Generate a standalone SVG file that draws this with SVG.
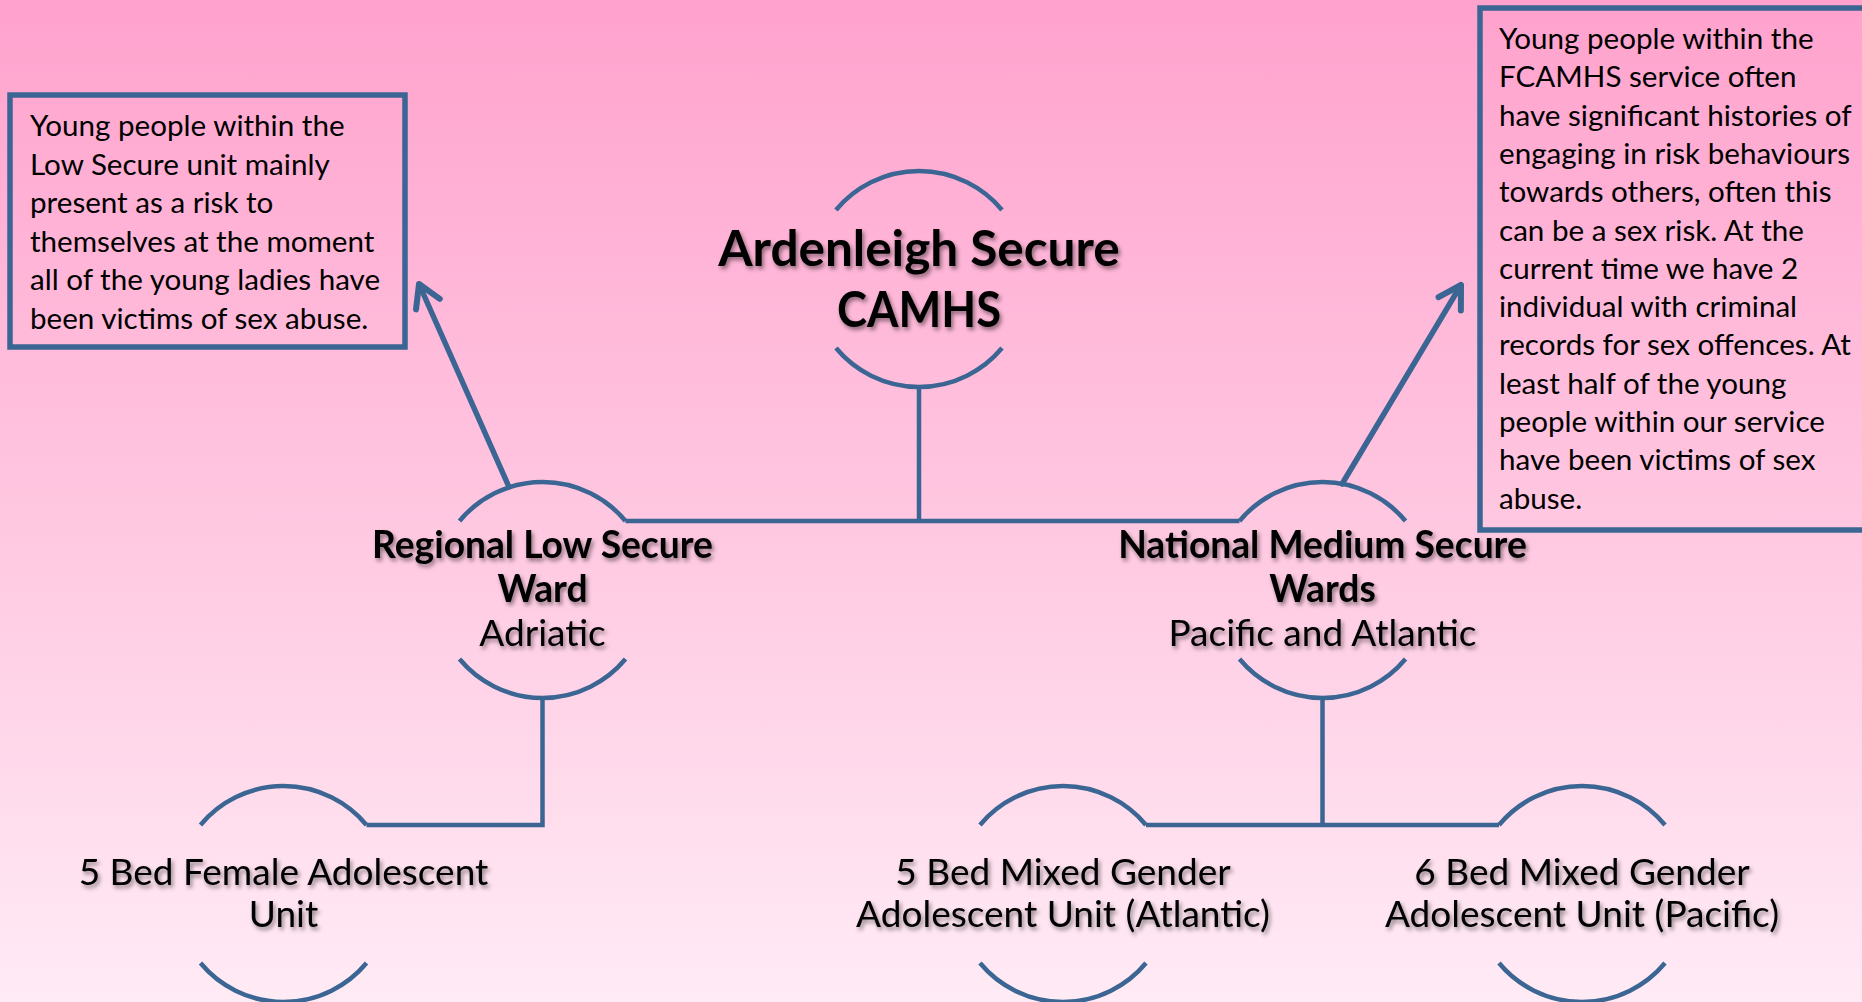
<svg xmlns="http://www.w3.org/2000/svg" width="1862" height="1002" viewBox="0 0 1862 1002">
<defs>
<linearGradient id="bg" x1="0" y1="0" x2="0" y2="1">
<stop offset="0" stop-color="#ffa2cd"/>
<stop offset="0.5" stop-color="#ffc6e0"/>
<stop offset="1" stop-color="#ffebf5"/>
</linearGradient>
<filter id="sh" x="-10%" y="-30%" width="120%" height="160%">
<feDropShadow dx="2" dy="3" stdDeviation="2" flood-color="#000" flood-opacity="0.45"/>
</filter>
<marker id="ah" markerUnits="userSpaceOnUse" markerWidth="40" markerHeight="40" viewBox="-30 -20 40 40" refX="0" refY="0" orient="auto">
<path d="M -22 -13 L 0 0 L -22 13" fill="none" stroke="#3b6593" stroke-width="6" stroke-linecap="round" stroke-linejoin="round"/>
</marker>
</defs>
<style>
.arc{fill:none;stroke:#3b6593;stroke-width:4.5}
.con{fill:none;stroke:#3b6593;stroke-width:4.5}
.arr{fill:none;stroke:#3b6593;stroke-width:5.5;stroke-linecap:round}
.box{fill:none;stroke:#3b6593;stroke-width:5.5}
.t{font-family:Lato,"Open Sans",sans-serif;fill:#000;text-anchor:middle}
.b{font-weight:bold}
.bx{font-family:Lato,"Open Sans",sans-serif;fill:#000;font-size:29.6px}
.s{filter:url(#sh)}
</style>
<rect x="0" y="0" width="1862" height="1002" fill="url(#bg)"/>

<g id="connectors">
<path class="con" d="M 919 387 L 919 521"/>
<path class="con" d="M 625.5 521 L 1239.5 521"/>
<path class="con" d="M 542.5 698 L 542.5 825 L 366.5 825"/>
<path class="con" d="M 1322.5 698 L 1322.5 825"/>
<path class="con" d="M 1146 825 L 1499 825"/>
<path class="arr" d="M 509 487 L 419 284" marker-end="url(#ah)"/>
<path class="arr" d="M 1342 484 L 1461 285" marker-end="url(#ah)"/>
</g>

<g id="note-low">
<rect class="box" x="10" y="95" width="395" height="252"/>
<text class="bx" x="30" y="136">Young people within the</text>
<text class="bx" x="30" y="174.6">Low Secure unit mainly</text>
<text class="bx" x="30" y="213.2">present as a risk to</text>
<text class="bx" x="30" y="251.8">themselves at the moment</text>
<text class="bx" x="30" y="290.4">all of the young ladies have</text>
<text class="bx" x="30" y="329">been victims of sex abuse.</text>
</g>

<g id="note-medium">
<rect class="box" x="1480" y="8" width="420" height="522"/>
<text class="bx" x="1499" y="49">Young people within the</text>
<text class="bx" x="1499" y="87.3">FCAMHS service often</text>
<text class="bx" x="1499" y="125.6">have significant histories of</text>
<text class="bx" x="1499" y="163.9">engaging in risk behaviours</text>
<text class="bx" x="1499" y="202.2">towards others, often this</text>
<text class="bx" x="1499" y="240.5">can be a sex risk. At the</text>
<text class="bx" x="1499" y="278.8">current time we have 2</text>
<text class="bx" x="1499" y="317.1">individual with criminal</text>
<text class="bx" x="1499" y="355.4">records for sex offences. At</text>
<text class="bx" x="1499" y="393.7">least half of the young</text>
<text class="bx" x="1499" y="432">people within our service</text>
<text class="bx" x="1499" y="470.3">have been victims of sex</text>
<text class="bx" x="1499" y="508.6">abuse.</text>
</g>

<g id="node-ardenleigh">
<path class="arc" d="M 836 210 A 108 108 0 0 1 1002 210"/>
<path class="arc" d="M 836 348 A 108 108 0 0 0 1002 348"/>
<text class="t b s" x="919" y="266" font-size="49.5">Ardenleigh Secure</text>
<text class="t b s" x="919" y="327" font-size="49.5" textLength="164" lengthAdjust="spacingAndGlyphs">CAMHS</text>
</g>

<g id="node-low">
<path class="arc" d="M 459.5 521 A 108 108 0 0 1 625.5 521"/>
<path class="arc" d="M 459.5 659 A 108 108 0 0 0 625.5 659"/>
<text class="t b s" x="542.5" y="558" font-size="37.2">Regional Low Secure</text>
<text class="t b s" x="542.5" y="602" font-size="37.2">Ward</text>
<text class="t s" x="542.5" y="646" font-size="37">Adriatic</text>
</g>

<g id="node-medium">
<path class="arc" d="M 1239.5 521 A 108 108 0 0 1 1405.5 521"/>
<path class="arc" d="M 1239.5 659 A 108 108 0 0 0 1405.5 659"/>
<text class="t b s" x="1322.5" y="558" font-size="37.2">National Medium Secure</text>
<text class="t b s" x="1322.5" y="602" font-size="37.2">Wards</text>
<text class="t s" x="1322.5" y="646" font-size="37">Pacific and Atlantic</text>
</g>

<g id="node-female">
<path class="arc" d="M 200.5 825 A 108 108 0 0 1 366.5 825"/>
<path class="arc" d="M 200.5 963 A 108 108 0 0 0 366.5 963"/>
<text class="t s" x="283.5" y="885" font-size="37">5 Bed Female Adolescent</text>
<text class="t s" x="283.5" y="927" font-size="37">Unit</text>
</g>

<g id="node-atlantic">
<path class="arc" d="M 980 825 A 108 108 0 0 1 1146 825"/>
<path class="arc" d="M 980 963 A 108 108 0 0 0 1146 963"/>
<text class="t s" x="1063" y="885" font-size="37">5 Bed Mixed Gender</text>
<text class="t s" x="1063" y="927" font-size="37">Adolescent Unit (Atlantic)</text>
</g>

<g id="node-pacific">
<path class="arc" d="M 1499 825 A 108 108 0 0 1 1665 825"/>
<path class="arc" d="M 1499 963 A 108 108 0 0 0 1665 963"/>
<text class="t s" x="1582" y="885" font-size="37">6 Bed Mixed Gender</text>
<text class="t s" x="1582" y="927" font-size="37">Adolescent Unit (Pacific)</text>
</g>
</svg>
